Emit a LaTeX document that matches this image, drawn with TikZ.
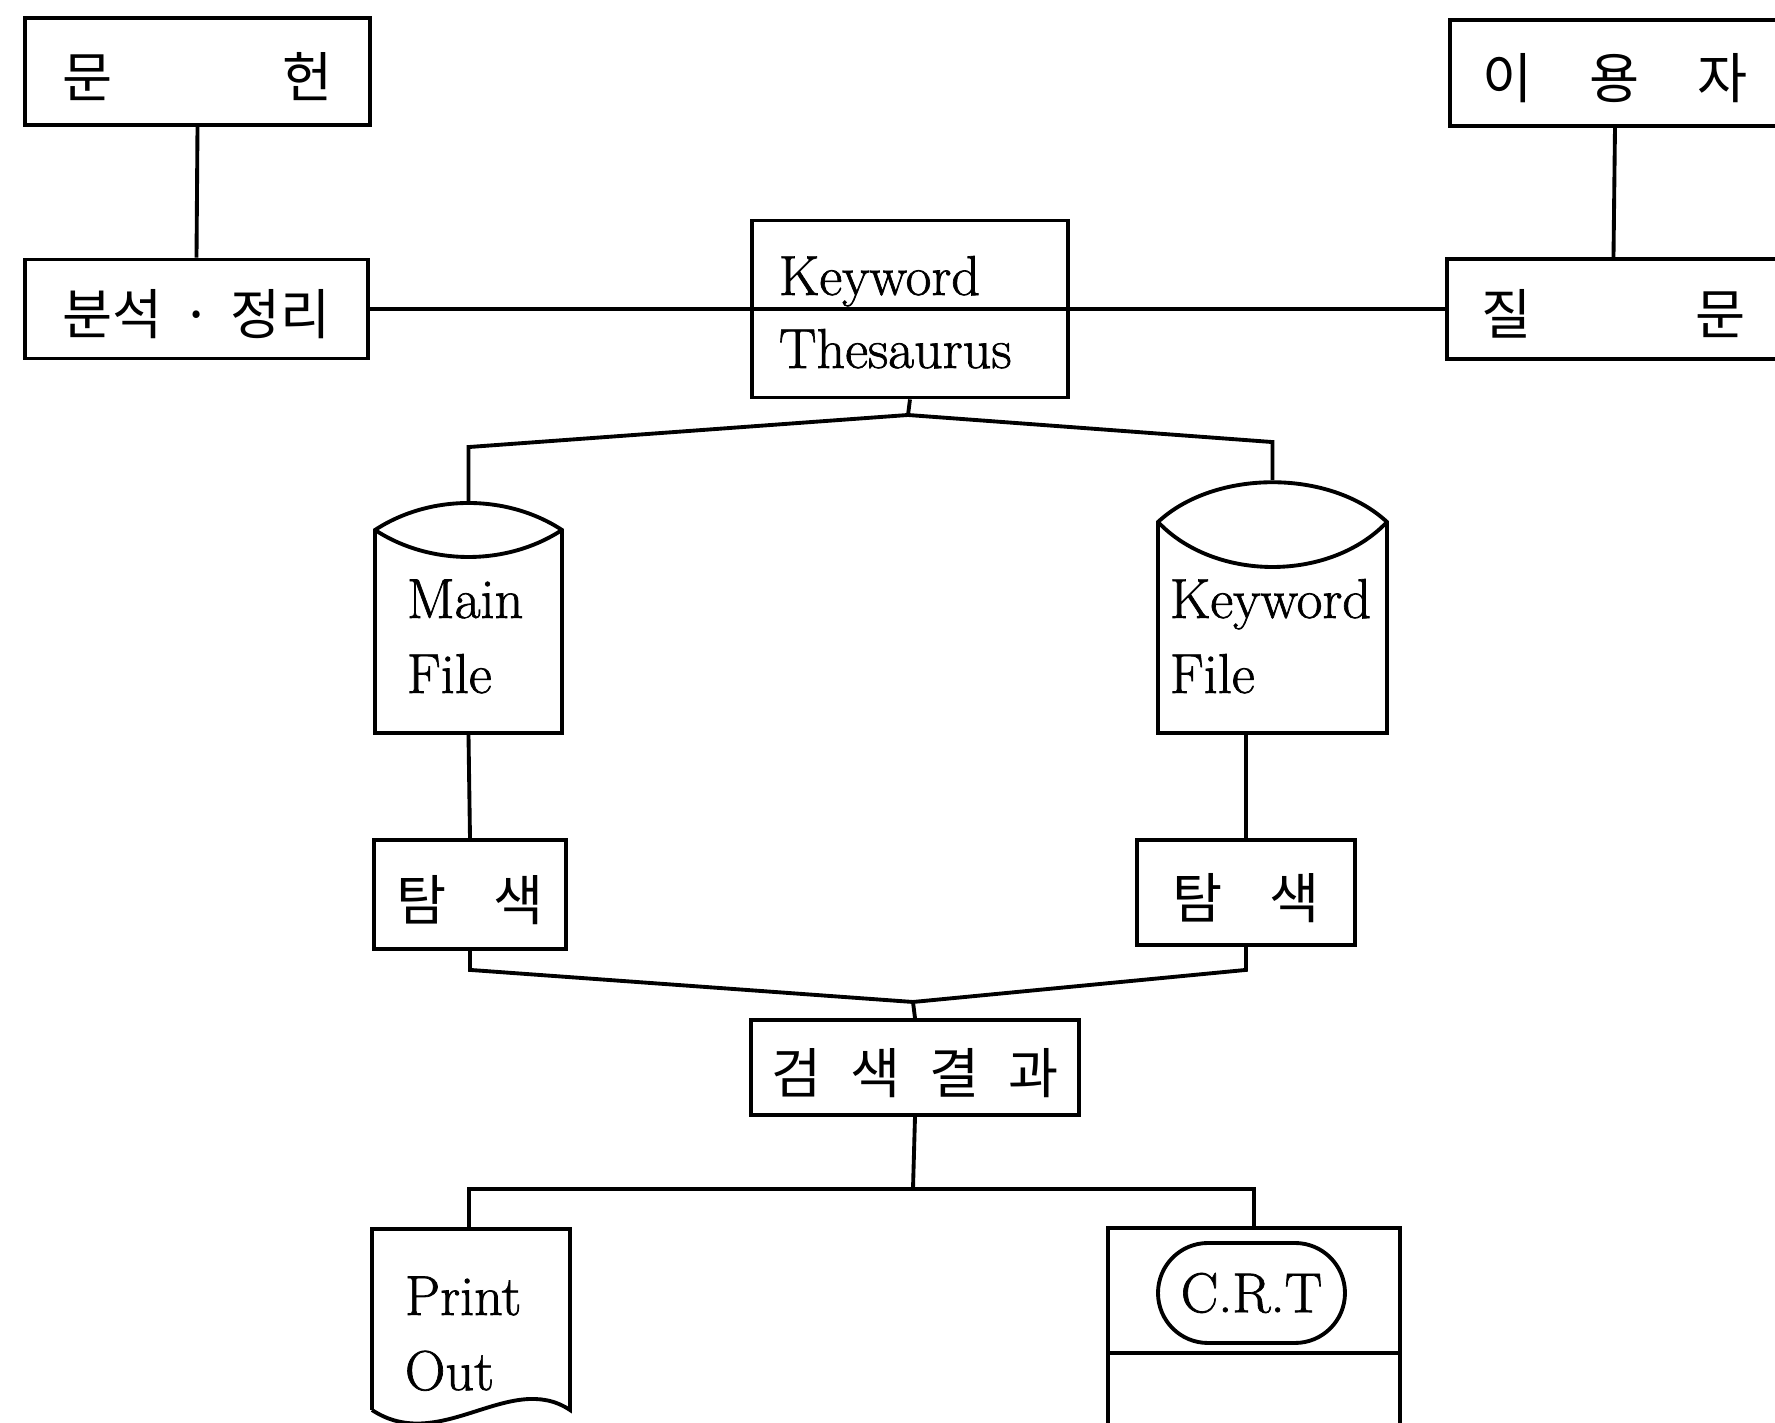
\documentclass[tikz,border=0pt]{standalone}
\usepackage{fontspec}
\newfontfamily\hangul{Noto Sans CJK KR}
\newfontfamily\latin{Latin Modern Roman}[FakeBold=1.2]
\usetikzlibrary{calc}
% spread the characters of a label over a fixed width
\newcommand\spreadtext[2]{\hbox to #1{#2}}

\begin{document}
\begin{tikzpicture}[x=0.1mm, y=-0.1mm, line width=1.1pt, line join=miter,
  box/.style={draw, rectangle, inner sep=0pt},
  ghost/.style={rectangle, inner sep=0pt},
  lat/.style={font=\latin\fontsize{16}{20}\selectfont, inner sep=0pt},
  han/.style={font=\hangul\fontsize{15.5}{18}\selectfont, text height=15.8pt, text depth=1pt},
]
\useasboundingbox (0,0) rectangle (1775,1423);

% ---- top row: sources and requests ----
\node[box, han, minimum width=34.5mm, minimum height=10.7mm] (doc) at (197.5,71.5)
  {\spreadtext{27mm}{문\hfill 헌}};
\node[box, han, minimum width=34.3mm, minimum height=9.9mm] (analysis) at (196.5,309)
  {\spreadtext{26.8mm}{분석\hfill ·\hfill 정리}};
\node[box, han, minimum width=33mm, minimum height=10.6mm] (user) at (1615,73)
  {\spreadtext{26.5mm}{이\hfill 용\hfill 자}};
\node[box, han, minimum width=33.3mm, minimum height=10mm] (query) at (1613.5,309)
  {\spreadtext{26.5mm}{질\hfill 문}};

% ---- thesaurus ----
\node[box, minimum width=31.6mm, minimum height=17.7mm] (thes) at (910,309) {};
\node[lat, anchor=base west] (thesA) at (777,295) {Keyword};
\node[lat, anchor=base west] (thesB) at (777,368) {Thesaurus};

\draw (doc.south) -- (analysis.north);
\draw (user.south) -- (query.north);
\draw (analysis.east) -- (thes.west) -- (thes.east) -- (query.west);

% ---- files ----
\node[ghost, minimum width=18.7mm, minimum height=23mm] (mainf) at (468.5,618) {};
\draw (375,733) -- (375,530) .. controls (430,494) and (507,494) .. (562,530) -- (562,733) -- cycle;
\draw (375,530) .. controls (430,566) and (507,566) .. (562,530);
\node[lat, anchor=base west] (mainA) at (405,618) {Main};
\node[lat, anchor=base west] (mainB) at (405,693) {File};

\node[ghost, minimum width=22.9mm, minimum height=25.1mm] (kwf) at (1272.5,607.5) {};
\draw (1158,733) -- (1158,522) .. controls (1215,469) and (1330,469) .. (1387,522) -- (1387,733) -- cycle;
\draw (1158,522) .. controls (1215,582) and (1330,582) .. (1387,522);
\node[lat, anchor=base west] (kwA) at (1168,618) {Keyword};
\node[lat, anchor=base west] (kwB) at (1168,693) {File};

\coordinate (topj) at (908,415);
\draw (thes.south) -- (topj) -- ($(mainf.north)-(0,54)$) -- (mainf.north);
\draw (topj) -- ($(kwf.north)-(0,38)$) -- (kwf.north);

% ---- searches ----
\node[box, han, minimum width=19.2mm, minimum height=10.9mm] (ltam) at (470,894.5)
  {\spreadtext{14.8mm}{탐\hfill 색}};
\node[box, han, minimum width=21.8mm, minimum height=10.5mm] (rtam) at (1246,892.5)
  {\spreadtext{14.8mm}{탐\hfill 색}};

\draw (mainf.south) -- (ltam.north);
\draw (rtam.north) -- (rtam.north |- kwf.south);

\node[box, han, minimum width=32.8mm, minimum height=9.5mm] (res) at (915,1067.5)
  {\spreadtext{28.8mm}{검\hfill 색\hfill 결\hfill 과}};

\coordinate (botj) at (913,1002);
\draw (ltam.south) -- ++(0,19) -- (botj) -- (res.north);
\draw (rtam.south) -- ++(0,23) -- (botj);

% ---- outputs ----
\node[ghost, minimum width=19.8mm, minimum height=18.1mm] (prt) at (469,1319.5) {};
\draw (372,1410) -- (372,1229) -- (570,1229) -- (570,1410)
  .. controls (510,1370) and (440,1455) .. (372,1410);
\node[lat, anchor=base west] (prtA) at (403,1315) {Print};
\node[lat, anchor=base west] (prtB) at (403,1390) {Out};

\node[box, minimum width=29.2mm, minimum height=21.2mm] (crt) at (1254,1334) {};
\draw (crt.west |- 0,1353) -- (crt.east |- 0,1353);
\node[draw, lat, rounded corners=5mm, minimum width=18.7mm, minimum height=10mm] (crtlabel)
  at (1251.5,1293) {C.R.T};

\coordinate (outj) at (913,1189);
\draw (res.south) -- (outj);
\draw (prt.north) -- (prt.north |- outj) -- (crt.north |- outj) -- (crt.north);
\end{tikzpicture}
\end{document}
